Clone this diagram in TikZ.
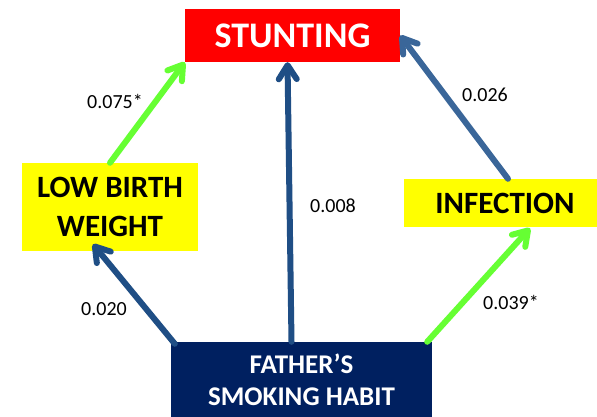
\documentclass[tikz,border=0pt]{standalone}
\usepackage{fontspec}
\setmainfont{Carlito}
\usetikzlibrary{arrows.meta,calc}
\definecolor{navybox}{HTML}{002060}
\definecolor{redbox}{HTML}{FF0000}
\definecolor{yellowbox}{HTML}{FFFF00}
\definecolor{greenarr}{HTML}{66FF33}
\definecolor{darkarr}{HTML}{1F4E85}
\definecolor{midarr}{HTML}{3A6699}
\begin{document}
\begin{tikzpicture}[x=1pt,y=-1pt,
  box/.style={draw=none, inner sep=0pt, align=center, anchor=center},
  lab/.style={inner sep=0pt, font=\fontsize{20}{20}\selectfont, anchor=center},
  arr/.style={line width=6pt, line cap=round, -{Straight Barb[length=14pt,width=18pt,round]}}]
\useasboundingbox (0,0) rectangle (597,417);
\fill[white] (0,0) rectangle (597,417);
\node[box, fill=redbox, text=white, minimum width=215pt, minimum height=53pt,
  font=\bfseries\fontsize{36}{36}\selectfont] (stunt) at (292.5,35.5) {STUNTING};
\node[box, fill=yellowbox, text=black, minimum width=176pt, minimum height=88pt,
  font=\bfseries\fontsize{31}{39}\selectfont] (lbw) at (110,207) {LOW BIRTH\\WEIGHT};
\node[box, fill=yellowbox, text=black, minimum width=202pt, minimum height=48pt,
  font=\bfseries\fontsize{31}{31}\selectfont] (inf) at (505,203) {INFECTION};
\node[box, fill=navybox, text=white, minimum width=261pt, minimum height=76pt,
  font=\bfseries\fontsize{27}{32}\selectfont] (father) at (301.5,380) {FATHER’S\\SMOKING HABIT};
\draw[arr, greenarr] (lbw.north) -- (stunt.south west);
\draw[arr, darkarr] ($(father.north)+(-10,0)$) -- ($(stunt.south)+(-5,0)$);
\draw[arr, midarr] ($(inf.north)+(3,0)$) -- (stunt.east);
\draw[arr, darkarr] ($(father.north west)+(4,2)$) -- ($(lbw.south)+(-17,-7)$);
\draw[arr, greenarr] ($(father.north east)+(-5,0)$) -- ($(inf.south)+(25,1)$);
\node[lab] (l1) at (115,101) {0.075*};
\node[lab] (l2) at (485,95) {0.026};
\node[lab] (l3) at (333,206) {0.008};
\node[lab] (l4) at (104,309) {0.020};
\node[lab] (l5) at (511,302) {0.039*};
\end{tikzpicture}
\end{document}
